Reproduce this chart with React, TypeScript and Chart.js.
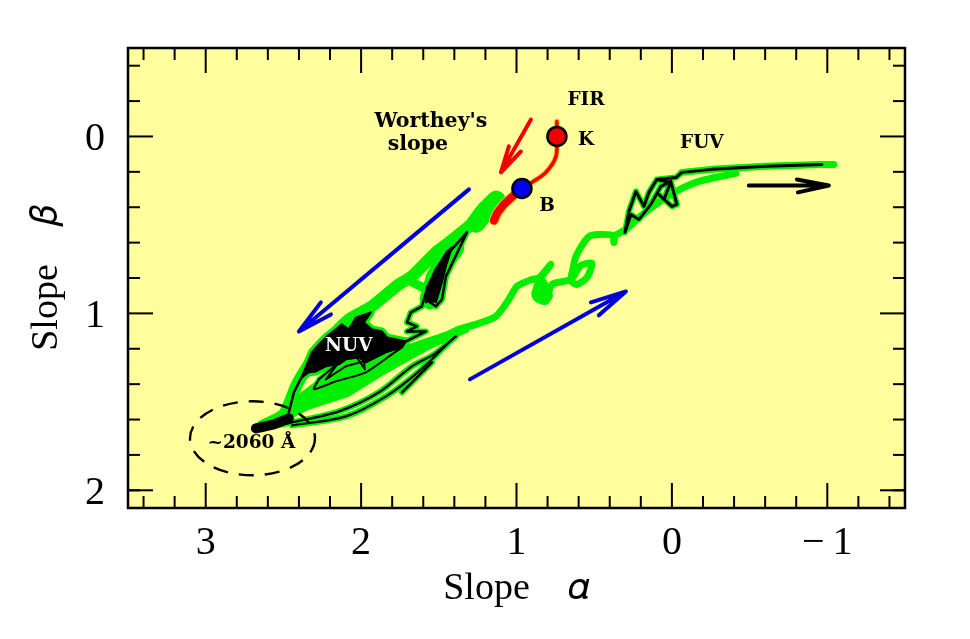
import React, { useEffect, useRef } from "react";
import { Chart, registerables } from "chart.js";

Chart.register(...registerables);

type P = number[];

const xTicks = [3, 2, 1, 0, -1];
const yTicks = [0, 1, 2];
const xMinor = [3.4, 3.2, 2.8, 2.6, 2.4, 2.2, 1.8, 1.6, 1.4, 1.2, 0.8, 0.6, 0.4, 0.2, -0.2, -0.4, -0.6, -0.8, -1.2, -1.4];
const yMinor = [-0.4, -0.2, 0.2, 0.4, 0.6, 0.8, 1.2, 1.4, 1.6, 1.8, 2.0];

const wedge: P[] = [[1.306,1.062],[1.596,1.147],[1.821,1.215],[2.046,1.288],[2.272,1.373],[2.4,1.458],[2.497,1.571],[2.645,1.655],[2.465,1.599],[2.336,1.542],[2.079,1.469],[1.853,1.345],[1.564,1.203],[1.306,1.102]];
const greenFuvLow: P[] = [[-0.412,0.209],[-0.174,0.254],[-0.026,0.311],[0.103,0.384],[0.212,0.458],[0.296,0.525],[0.373,0.565],[0.373,0.6],[0.373,0.56],[0.47,0.554],[0.534,0.565],[0.618,0.678],[0.637,0.751],[0.65,0.814],[0.611,0.836],[0.547,0.797],[0.515,0.718],[0.586,0.729],[0.65,0.808],[0.772,0.836],[0.811,0.932],[0.875,0.91],[0.856,0.819],[0.779,0.723],[0.856,0.8],[0.901,0.808],[0.997,0.847],[1.049,0.921],[1.133,1.017],[1.261,1.062],[1.371,1.09],[1.499,1.147]];
const greenBlob: P[] = [[0.811,0.9],[0.86,0.89],[0.84,0.84]];
const greenBand: P[] = [[2.638,1.638],[2.497,1.571],[2.413,1.401],[2.304,1.249],[2.207,1.147],[2.079,1.034],[1.931,0.96],[1.757,0.836],[1.673,0.791],[1.519,0.655],[1.435,0.599],[1.293,0.497],[1.229,0.424],[1.133,0.339]];
const greenBandThick: P[] = [[1.26,0.49],[1.2,0.42],[1.13,0.36]];
const greenSpur: P[] = [[1.68,0.82],[1.54,0.88]];
const greenPod: P[] = [[1.56,0.92],[1.52,0.8],[1.46,0.7],[1.4,0.63]];

const fuvTop: P[] = [[-1.042,0.158],[-0.965,0.158],[-0.605,0.169],[-0.257,0.186],[-0.064,0.203]];
const fuvBlack: P[] = [[-0.965,0.158],[-0.605,0.169],[-0.257,0.186],[-0.064,0.203],[-0.026,0.232],[0.097,0.243],[0.148,0.316],[0.18,0.395],[0.232,0.311],[0.277,0.424],[0.302,0.542],[0.264,0.441],[0.212,0.469],[0.135,0.384],[0.071,0.282],[0.006,0.254],[0.051,0.356],[0.084,0.328],[0,0.395],[-0.032,0.384],[0.006,0.26],[0.097,0.243]];

const lowerOne: P[] = [[1.39,1.13],[1.532,1.232],[1.673,1.299],[1.885,1.446],[2.143,1.554],[2.445,1.616],[2.613,1.644]];
const lowerTwo: P[] = [[1.403,1.136],[1.628,1.328],[1.84,1.469],[2.098,1.582],[2.445,1.633]];
const lowerShort: P[] = [[1.737,1.446],[1.544,1.277]];
const tipBlob: P[] = [[2.677,1.65],[2.561,1.627],[2.465,1.593]];
const tipStem: P[] = [[2.465,1.559],[2.432,1.446],[2.381,1.356]];
const nuvBlob: P[] = [[2.381,1.356],[2.317,1.22],[2.272,1.175],[2.22,1.13],[2.162,1.09],[2.124,1.062],[2.079,1.09],[2.033,1.023],[1.937,0.994],[1.982,1.051],[1.931,1.09],[1.866,1.102],[1.834,1.136],[1.712,1.158],[1.737,1.192],[1.84,1.22],[1.905,1.249],[1.969,1.277],[2.014,1.249],[2.098,1.26],[2.143,1.288],[2.227,1.299],[2.291,1.328],[2.336,1.333],[2.381,1.362]];
const nuvLoops: P[] = [[2.272,1.373],[2.304,1.429],[2.162,1.384],[1.969,1.333],[1.802,1.232],[1.737,1.192]];
const nuvScribble: P[] = [[2.272,1.373],[2.143,1.277],[2.227,1.373],[2.098,1.299],[1.982,1.271],[1.976,1.316],[2.027,1.249]];
const upperBlack: P[] = [[1.712,1.158],[1.583,1.102],[1.705,1.102],[1.641,1.073],[1.705,1.051],[1.68,0.994],[1.609,0.96],[1.583,0.881],[1.519,0.751],[1.416,0.638],[1.319,0.542],[1.371,0.638],[1.454,0.791],[1.48,0.921],[1.519,0.96],[1.583,0.921]];
const podBlack: P[] = [[1.583,0.938],[1.577,0.853],[1.519,0.751],[1.448,0.65],[1.416,0.627],[1.454,0.734],[1.48,0.825],[1.519,0.938]];

const redThin: P[] = [[0.74,-0.085],[0.74,0],[0.746,0.113],[0.811,0.203],[0.901,0.26],[0.965,0.294]];
const redThick: P[] = [[0.997,0.316],[1.081,0.384],[1.126,0.435],[1.145,0.475]];

const arrowBlack: P[] = [[-0.495,0.277],[-1.01,0.277],[-0.804,0.243],[-1.01,0.277],[-0.811,0.316]];
const arrowBlueDown: P[] = [[1.306,0.299],[2.4,1.102],[2.259,0.938],[2.4,1.102],[2.194,1.006]];
const arrowBlueUp: P[] = [[1.3,1.373],[0.296,0.876],[0.521,0.938],[0.296,0.876],[0.47,1.011]];
const arrowRed: P[] = [[0.907,-0.096],[1.1,0.203],[1.049,0.056],[1.1,0.203],[0.972,0.085]];

const pointK: P[] = [[0.74, 0]];
const pointB: P[] = [[0.965, 0.294]];

const ellipseCentre = [2.699, 1.706];
const ellipseRadii = [0.402, 0.209];

const smallLabels: [string, number, number][] = [
  ["FIR", 0.553, -0.215],
  ["K", 0.553, 0.011],
  ["B", 0.804, 0.384],
  ["FUV", -0.193, 0.028],
  ["~2060 Å", 2.706, 1.723],
];
const largeLabels: [string, number, number][] = [
  ["Worthey's", 1.551, -0.09],
  ["slope", 1.634, 0.04],
];
const whiteLabels: [string, number, number][] = [["NUV", 2.079, 1.175]];

const GREEN = "#00ee00";
const BLUE = "#0000d8";
const RED = "#f00000";
const HALO = "#f4c21c";
const BLACK = "#000000";
const PLOT_BG = "#fffd9c";
const SERIF = "'Liberation Serif', serif";
const LABEL_FONT = "bold 18.5px 'DejaVu Serif', serif";
const LARGE_LABEL_FONT = "bold 20.5px 'DejaVu Serif', serif";

const line = (data: P[], color: string, width: number, tension = 0) => ({
  data: data.map(([x, y]) => ({ x, y })),
  borderColor: color,
  borderWidth: width,
  pointRadius: 0,
  tension,
  fill: false,
});
const shape = (data: P[], color: string, width: number) => ({
  ...line(data, color, width),
  backgroundColor: color,
  fill: "shape",
});
const dot = (data: P[], color: string) => ({
  data: data.map(([x, y]) => ({ x, y })),
  showLine: false,
  pointRadius: 9.5,
  pointBackgroundColor: color,
  pointBorderColor: BLACK,
  pointBorderWidth: 2.5,
});

const layers = [
  shape(wedge, GREEN, 1),
  line(greenFuvLow, GREEN, 7, 0.25),
  line(greenBlob, GREEN, 14),
  line(greenBand, GREEN, 12, 0.2),
  line(greenBandThick, GREEN, 19),
  line(greenSpur, GREEN, 9),
  line(greenPod, GREEN, 20),
  line(fuvTop, GREEN, 7),
  line(fuvBlack, GREEN, 6),
  line(lowerOne, GREEN, 6, 0.3),
  line(lowerTwo, GREEN, 6, 0.3),
  line(lowerShort, GREEN, 6),
  line(tipStem, GREEN, 6),
  line(nuvBlob, GREEN, 8),
  line(nuvLoops, GREEN, 5, 0.2),
  line(nuvScribble, GREEN, 5),
  line(upperBlack, GREEN, 6),
  shape(nuvBlob, BLACK, 2),
  line(fuvBlack, BLACK, 3),
  line(lowerOne, BLACK, 2.2, 0.3),
  line(lowerTwo, BLACK, 2.2, 0.3),
  line(lowerShort, BLACK, 2.5),
  line(tipBlob, BLACK, 10),
  line(tipStem, BLACK, 2.5),
  line(nuvLoops, BLACK, 2, 0.2),
  line(nuvScribble, BLACK, 2),
  line(upperBlack, BLACK, 2.5),
  shape(podBlack, BLACK, 2),
  line(redThin, HALO, 5.5, 0.3),
  line(redThick, HALO, 10),
  line(redThin, RED, 3.5, 0.3),
  line(redThick, RED, 8),
  line(arrowBlack, BLACK, 4),
  line(arrowBlueDown, BLUE, 4),
  line(arrowBlueUp, BLUE, 4),
  line(arrowRed, RED, 4),
  dot(pointK, RED),
  dot(pointB, "#0000f0"),
];

const framePlugin = {
  id: "frame",
  beforeDatasetsDraw(chart: any) {
    const { ctx, chartArea: a } = chart;
    ctx.save();
    ctx.fillStyle = PLOT_BG;
    ctx.fillRect(a.left, a.top, a.right - a.left, a.bottom - a.top);
    ctx.restore();
  },
  afterDatasetsDraw(chart: any) {
    const { ctx, chartArea: a, scales } = chart;
    ctx.save();

    ctx.strokeStyle = BLACK;
    ctx.lineWidth = 2;
    const seg = (x0: number, y0: number, x1: number, y1: number) => {
      ctx.beginPath();
      ctx.moveTo(x0, y0);
      ctx.lineTo(x1, y1);
      ctx.stroke();
    };
    const xMarks = (vals: number[], len: number) =>
      vals.forEach((v) => {
        const p = scales.x.getPixelForValue(v);
        seg(p, a.top, p, a.top + len);
        seg(p, a.bottom, p, a.bottom - len);
      });
    const yMarks = (vals: number[], len: number) =>
      vals.forEach((v) => {
        const p = scales.y.getPixelForValue(v);
        seg(a.left, p, a.left + len, p);
        seg(a.right, p, a.right - len, p);
      });
    xMarks(xTicks, 25);
    xMarks(xMinor, 12);
    yMarks(yTicks, 25);
    yMarks(yMinor, 12);
    ctx.lineWidth = 2.5;
    ctx.strokeRect(a.left, a.top, a.right - a.left, a.bottom - a.top);

    const cx = scales.x.getPixelForValue(ellipseCentre[0]);
    const cy = scales.y.getPixelForValue(ellipseCentre[1]);
    const rx = Math.abs(scales.x.getPixelForValue(ellipseCentre[0] + ellipseRadii[0]) - cx);
    const ry = Math.abs(scales.y.getPixelForValue(ellipseCentre[1] + ellipseRadii[1]) - cy);
    ctx.setLineDash([15, 11]);
    ctx.lineWidth = 2.4;
    ctx.beginPath();
    ctx.ellipse(cx, cy, rx, ry, 0, 0, Math.PI * 2);
    ctx.stroke();
    ctx.setLineDash([]);

    ctx.textAlign = "center";
    ctx.textBaseline = "middle";
    ctx.fillStyle = BLACK;
    const put = (rows: [string, number, number][]) =>
      rows.forEach(([t, x, y]) =>
        ctx.fillText(t, scales.x.getPixelForValue(x), scales.y.getPixelForValue(y) + 1.5)
      );
    ctx.font = LABEL_FONT;
    put(smallLabels);
    ctx.font = LARGE_LABEL_FONT;
    put(largeLabels);
    ctx.font = LABEL_FONT;
    ctx.fillStyle = "#ffffff";
    put(whiteLabels);
    ctx.restore();
  },
};

export default function App() {
  const ref = useRef<HTMLCanvasElement>(null);
  useEffect(() => {
    document.body.style.margin = "0";
    const n = layers.length;
    const chart = new Chart(ref.current as HTMLCanvasElement, {
      type: "line",
      data: {
        datasets: layers.map((l, i) => ({ ...l, order: n - i })) as any,
      },
      plugins: [framePlugin as any],
      options: {
        responsive: false,
        animation: false,
        devicePixelRatio: 1,
        layout: { padding: { top: 48, right: 65, left: 0, bottom: 0 } },
        elements: {
          line: { borderJoinStyle: "round", borderCapStyle: "round" },
        },
        plugins: {
          legend: { display: false },
          tooltip: { enabled: false },
          filler: { propagate: false },
        },
        scales: {
          x: {
            type: "linear",
            reverse: true,
            min: -1.5,
            max: 3.5,
            grid: { display: false, drawTicks: false },
            border: { display: false },
            afterBuildTicks: (s: any) => {
              s.ticks = xTicks.map((value) => ({ value }));
            },
            afterFit: (s: any) => {
              s.height = 131;
            },
            ticks: {
              padding: 11,
              maxRotation: 0,
              autoSkip: false,
              color: BLACK,
              font: { family: SERIF, size: 40 },
              callback: (v: any) => (v < 0 ? "\u2212" + "\u2009" + Math.abs(v) : String(v)),
            },
            title: {
              display: true,
              text: "Slope  \u2002\u{1D6FC}",
              color: BLACK,
              font: { family: SERIF, size: 38 },
              padding: { top: 0, bottom: 27 },
            },
          },
          y: {
            type: "linear",
            reverse: true,
            min: -0.5,
            max: 2.1,
            grid: { display: false, drawTicks: false },
            border: { display: false },
            afterBuildTicks: (s: any) => {
              s.ticks = yTicks.map((value) => ({ value }));
            },
            afterFit: (s: any) => {
              s.width = 128;
            },
            ticks: {
              padding: 23,
              labelOffset: 3,
              autoSkip: false,
              color: BLACK,
              font: { family: SERIF, size: 40 },
              callback: (v: any) => String(v),
            },
            title: {
              display: true,
              text: "Slope  \u2002\u{1D6FD}",
              color: BLACK,
              font: { family: SERIF, size: 38 },
              padding: { top: 24, bottom: 0 },
            },
          },
        },
      } as any,
    });
    return () => chart.destroy();
  }, []);
  return <canvas ref={ref} width={970} height={639} style={{ display: "block" }} />;
}
